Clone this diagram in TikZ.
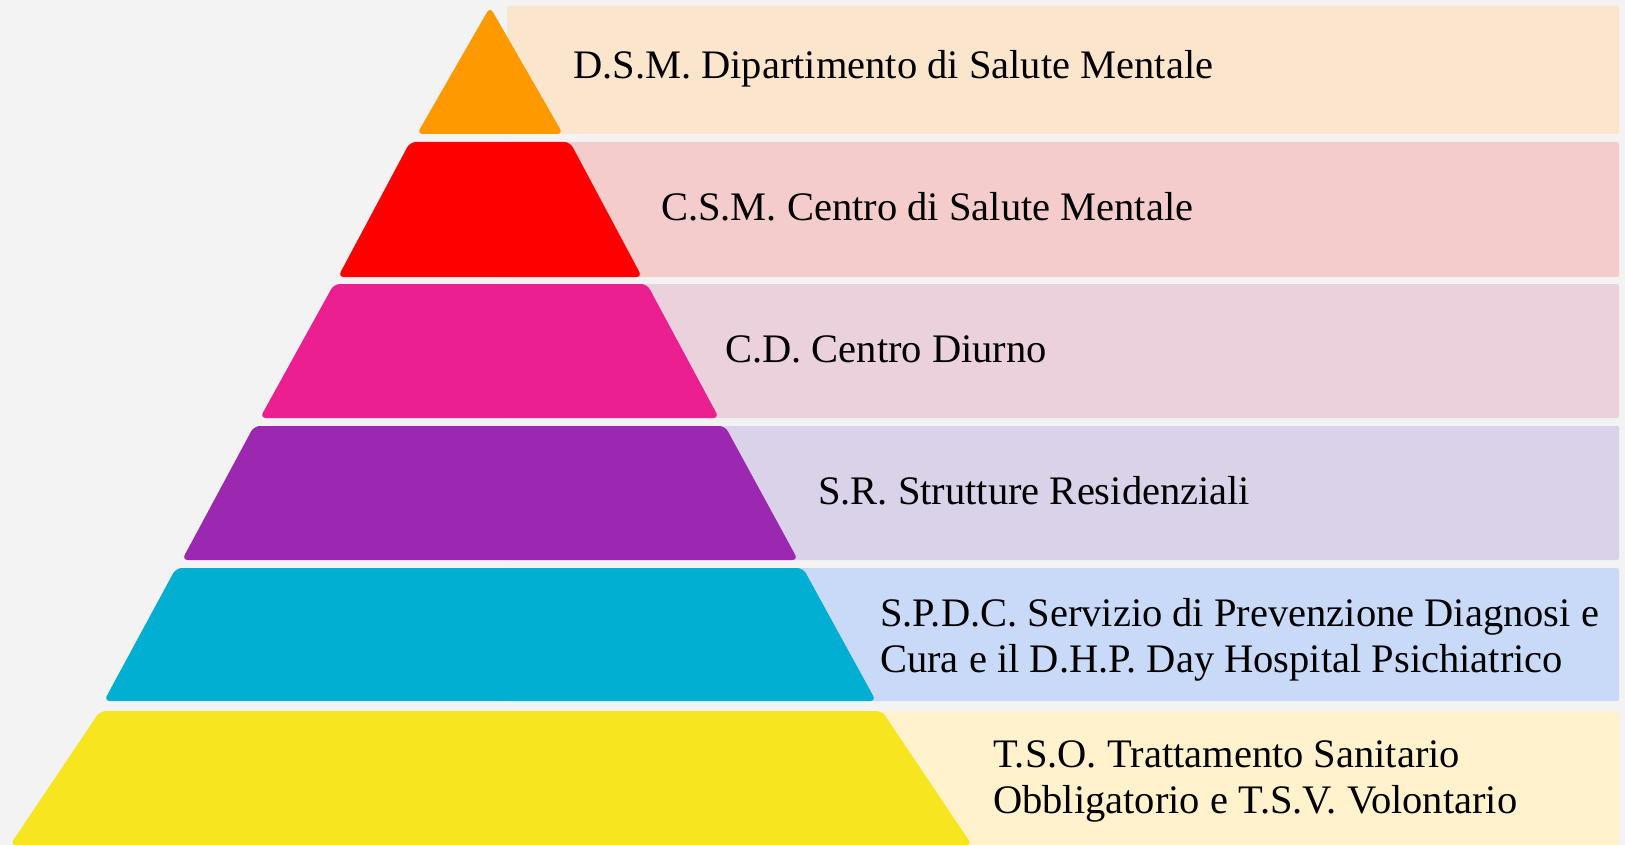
\documentclass[tikz,border=0pt]{standalone}
\usepackage{fontspec}
\setmainfont{Liberation Serif}

\definecolor{pagebg}{HTML}{F3F3F3}
\definecolor{dsmcol}{HTML}{FF9900}
\definecolor{csmcol}{HTML}{FF0000}
\definecolor{cdcol}{HTML}{EC1F91}
\definecolor{srcol}{HTML}{9C27B0}
\definecolor{spdccol}{HTML}{00AFD1}
\definecolor{tsocol}{HTML}{F7E61F}
\definecolor{dsmback}{HTML}{FCE5CD}
\definecolor{csmback}{HTML}{F4CCCC}
\definecolor{cdback}{HTML}{EAD1DC}
\definecolor{srback}{HTML}{D9D2E9}
\definecolor{spdcback}{HTML}{C9DAF8}
\definecolor{tsoback}{HTML}{FFF2CC}

\begin{document}
\begin{tikzpicture}[x=1pt,y=-1pt,
        tier/.style={rounded corners=6pt},
        backbar/.style={rounded corners=2pt},
        rowtext/.style={anchor=base west, inner sep=0pt, align=left,
                font=\fontsize{40.5}{46}\selectfont}]
        \fill[pagebg] (0,0) rectangle (1625,845);

        \fill[dsmback, backbar] (507,6) rectangle (1619,134);
        \fill[csmback, backbar] (507,142) rectangle (1619,277);
        \fill[cdback, backbar] (507,284) rectangle (1619,418);
        \fill[srback, backbar] (507,426) rectangle (1619,560);
        \fill[spdcback, backbar] (507,568) rectangle (1619,701);
        \fill[tsoback, backbar] (507,711) rectangle (1619,845);

        \fill[dsmcol, tier] (490,7) -- (563,134) -- (417,134) -- cycle;
        \fill[csmcol, tier] (410,142) -- (570,142) -- (642,277) -- (338,277) -- cycle;
        \fill[cdcol, tier] (334,284) -- (647,284) -- (719,418) -- (260,418) -- cycle;
        \fill[srcol, tier] (254,426) -- (725,426) -- (798,560) -- (182,560) -- cycle;
        \fill[spdccol, tier] (176,568) -- (803,568) -- (876,701) -- (104,701) -- cycle;
        \fill[tsocol, tier] (100,711) -- (882,711) -- (972,845) -- (10,845) -- cycle;

        \node[rowtext] (dsm) at (573,79) {D.S.M. Dipartimento di Salute Mentale};
        \node[rowtext] (csm) at (661,221) {C.S.M. Centro di Salute Mentale};
        \node[rowtext] (cd) at (725,362) {C.D. Centro Diurno};
        \node[rowtext] (sr) at (818,504) {S.R. Strutture Residenziali};
        \node[rowtext] (spdc) at (880,672) {S.P.D.C. Servizio di Prevenzione Diagnosi e\\Cura e il D.H.P. Day Hospital Psichiatrico};
        \node[rowtext] (tso) at (993,813) {T.S.O. Trattamento Sanitario\\Obbligatorio e T.S.V. Volontario};
\end{tikzpicture}
\end{document}
